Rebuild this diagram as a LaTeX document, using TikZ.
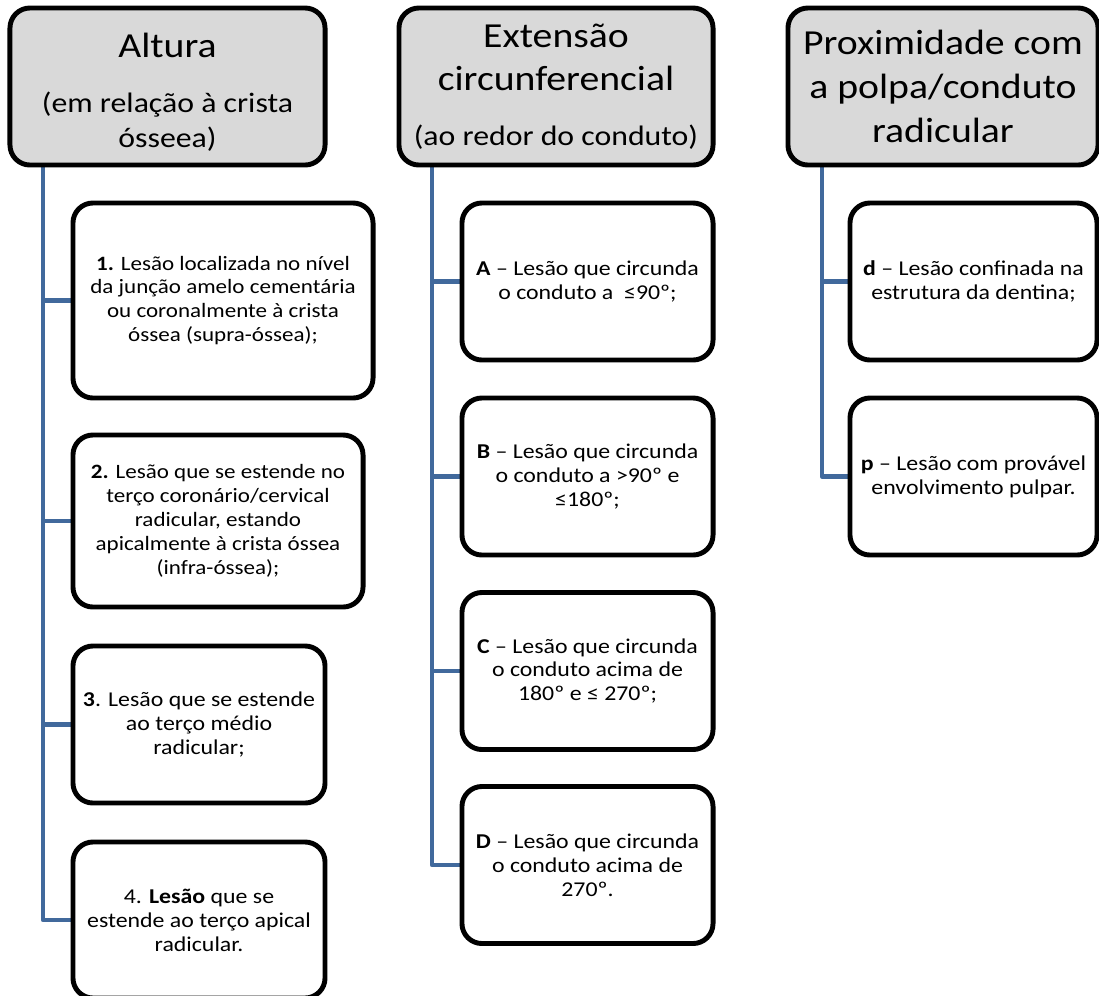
\documentclass[tikz,border=0pt]{standalone}
\usepackage{fontspec}
\setmainfont{Carlito}[FakeStretch=1.13]
\usetikzlibrary{positioning,backgrounds}
\definecolor{linkblue}{HTML}{41699C}
\definecolor{headgray}{HTML}{D9D9D9}
\newcommand{\bigsize}{\fontsize{25}{31}\selectfont}
\newcommand{\subsize}{\fontsize{20}{25}\selectfont}

\begin{document}
\begin{tikzpicture}[x=0.025cm, y=-0.025cm,
  head/.style={draw, line width=3.5pt, rounded corners=0.5cm, fill=headgray, align=center, minimum height=3.925cm, inner sep=2pt},
  item/.style={draw, line width=3.5pt, rounded corners=0.5cm, fill=white, align=center, font=\fontsize{15}{17}\selectfont},
  small/.style={font=\fontsize{14.5}{17}\selectfont},
  link/.style={draw=linkblue, line width=3.4pt, line join=round}]
  \useasboundingbox (0,0) rectangle (1099,995);

  % Headers
  \node[head, minimum width=7.875cm, font=\subsize] (h1) at (167.5,86.5) {{\bigsize\rule{0pt}{26pt}Altura}\\[14pt](em relação à crista\\ósseea)};
  \node[head, minimum width=7.85cm, font=\bigsize] (h2) at (556,86.5) {Extensão\\circunferencial\\[8pt]{\subsize (ao redor do conduto)}};
  \node[head, minimum width=7.75cm, font=\bigsize] (h3) at (943,86.5) {Proximidade com\\a polpa/conduto\\radicular};

  % Altura
  \node[item, small, minimum width=7.5cm, minimum height=4.875cm] (a1) at (223,300.5) {\textbf{1.} Lesão localizada no nível\\da junção amelo cementária\\ou coronalmente à crista\\óssea (supra-óssea);};
  \node[item, small, minimum width=7.25cm, minimum height=4.3cm] (a2) at (218,521) {\textbf{2.} Lesão que se estende no\\terço coronário/cervical\\radicular, estando\\apicalmente à crista óssea\\(infra-óssea);};
  \node[item, minimum width=6.3cm, minimum height=3.925cm] (a3) at (199,724.5) {\textbf{3}. Lesão que se estende\\ao terço médio\\radicular;};
  \node[item, minimum width=6.3cm, minimum height=3.9cm] (a4) at (199,920) {4. \textbf{Lesão} que se\\estende ao terço apical\\radicular.};

  % Extensao circunferencial
  \node[item, minimum width=6.275cm, minimum height=3.925cm] (eA) at (587.5,281.5) {\textbf{A} – Lesão que circunda\\o conduto a\ \ ≤90º;};
  \node[item, minimum width=6.275cm, minimum height=3.925cm] (eB) at (587.5,476.5) {\textbf{B} – Lesão que circunda\\o conduto a >90º e\\≤180º;};
  \node[item, minimum width=6.275cm, minimum height=3.925cm] (eC) at (587.5,671) {\textbf{C} – Lesão que circunda\\o conduto acima de\\180º e ≤ 270º;};
  \node[item, minimum width=6.275cm, minimum height=3.925cm] (eD) at (587.5,865) {\textbf{D} – Lesão que circunda\\o conduto acima de\\270º.};

  % Proximidade
  \node[item, minimum width=6.175cm, minimum height=3.925cm] (pd) at (973.5,281.5) {\textbf{d} – Lesão confinada na\\estrutura da dentina;};
  \node[item, minimum width=6.175cm, minimum height=3.925cm] (pp) at (973.5,476.5) {\textbf{p} – Lesão com provável\\envolvimento pulpar.};

  % Lines
  \begin{scope}[on background layer]
    \coordinate (t1) at (43,160);
    \coordinate (t2) at (432,160);
    \coordinate (t3) at (822,160);
    \draw[link] (t1) |- (a1.west);
    \draw[link] (t1) |- (a2.west);
    \draw[link] (t1) |- (a3.west);
    \draw[link] (t1) |- (a4.west);
    \draw[link] (t2) |- (eA.west);
    \draw[link] (t2) |- (eB.west);
    \draw[link] (t2) |- (eC.west);
    \draw[link] (t2) |- (eD.west);
    \draw[link] (t3) |- (pd.west);
    \draw[link] (t3) |- (pp.west);
  \end{scope}
\end{tikzpicture}
\end{document}
